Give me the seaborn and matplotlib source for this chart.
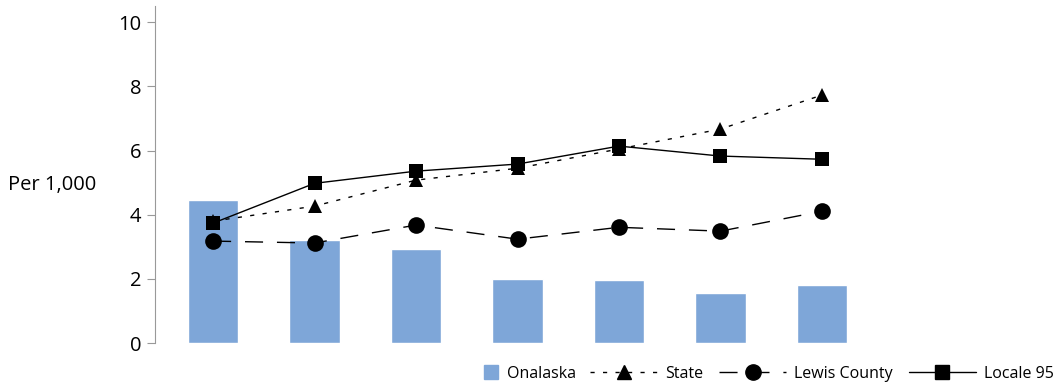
import numpy as np
import pandas as pd
import matplotlib
matplotlib.use("Agg")
import matplotlib.pyplot as plt
from matplotlib.lines import Line2D
import seaborn as sns

# dati (per 1,000)
categorie = ["1", "2", "3", "4", "5", "6", "7"]
onalaska = [4.45, 3.21, 2.93, 1.99, 1.96, 1.56, 1.81]
state = [3.80, 4.27, 5.08, 5.45, 6.05, 6.67, 7.73]
lewis_county = [3.18, 3.12, 3.68, 3.24, 3.61, 3.49, 4.11]
locale_95 = [3.74, 4.98, 5.36, 5.58, 6.14, 5.83, 5.73]

sns.set_style("white")
plt.rcParams['font.family'] = ['Open Sans', 'DejaVu Sans']
plt.rcParams['text.color'] = 'black'
plt.rcParams['ytick.labelcolor'] = 'black'

fig = plt.figure(figsize=(10.56, 3.86), dpi=100)
ax = fig.add_axes([0.147, 0.111, 0.689, 0.873])

df = pd.DataFrame({"cat": categorie, "Onalaska": onalaska, "State": state,
                   "Lewis County": lewis_county, "Locale 95": locale_95})

colore_barre = "#7EA6D8"
sns.barplot(data=df, x="cat", y="Onalaska", color=colore_barre, saturation=1,
            width=0.5, ax=ax)
sns.lineplot(data=df, x="cat", y="State", color="black", lw=1.0, marker="^",
             markersize=10.5, markeredgewidth=0, ax=ax,
             linestyle=(0, (3, 6)), sort=False)
sns.lineplot(data=df, x="cat", y="Lewis County", color="black", lw=1.0, marker="o",
             markersize=12, markeredgewidth=0, ax=ax,
             linestyle=(0, (13, 10)), sort=False)
sns.lineplot(data=df, x="cat", y="Locale 95", color="black", lw=1.0, marker="s",
             markersize=10.5, markeredgewidth=0, ax=ax, sort=False)

ax.set_xlim(-0.57, 6.6)
ax.set_ylim(0, 10.5)
ax.set_yticks([0, 2, 4, 6, 8, 10])
ax.set_xticks([])
ax.set_xlabel("")
ax.set_ylabel("")
for s in ["top", "right", "bottom"]:
    ax.spines[s].set_visible(False)
ax.spines["left"].set_color("#999999")
ax.tick_params(axis="y", left=True, length=6, color="#999999", labelsize=14.5, pad=4)

fig.text(0.008, 0.52, "Per 1,000", fontsize=14.5, va="center", ha="left")

# legenda in basso a destra (due pezzi: il quadrato delle barre ha una maniglia corta)
stile_leg = dict(frameon=False, fontsize=11.5, handletextpad=0.5,
                 borderaxespad=0, borderpad=0, loc="center right")
leg1 = fig.legend([Line2D([], [], color=colore_barre, marker="s", markersize=10,
                          linestyle="none")], ["Onalaska"],
                  bbox_to_anchor=(0.545, 12 / 386), handlelength=1.0, **stile_leg)
maniglie = [
    Line2D([], [], color="black", lw=1.0, marker="^", markersize=10, linestyle=(0, (3, 6))),
    Line2D([], [], color="black", lw=1.0, marker="o", markersize=11, linestyle=(0, (13, 10))),
    Line2D([], [], color="black", lw=1.0, marker="s", markersize=10),
]
fig.legend(maniglie, ["State", "Lewis County", "Locale 95"],
           bbox_to_anchor=(0.998, 12 / 386), ncol=3, handlelength=4.2,
           columnspacing=1.0, **stile_leg)

fig.savefig("out.png", dpi=100)
